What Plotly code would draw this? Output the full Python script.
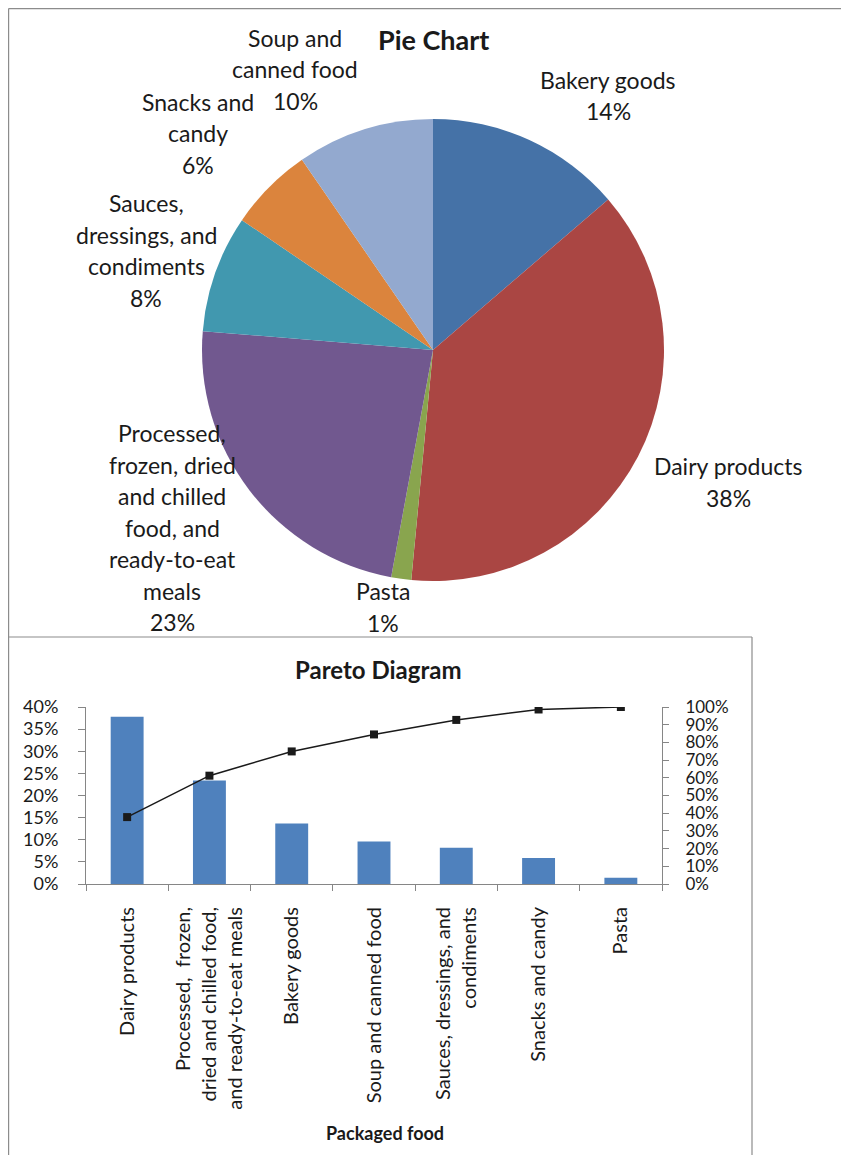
import plotly.graph_objects as go

# The page body adds an 8px margin, so the figure is drawn 16px smaller than
# the 849x1163 window and all positions are given in window pixels.
W, H = 833, 1147
OFF = 8
FONT = "Lato"
TXT = "#1a1a1a"
AX = "#868686"

# ---------------- data ----------------
pie_categories = [
    "Bakery goods",
    "Dairy products",
    "Pasta",
    "Processed, frozen, dried and chilled food, and ready-to-eat meals",
    "Sauces, dressings, and condiments",
    "Snacks and candy",
    "Soup and canned food",
]
pie_values = [13.7, 37.8, 1.4, 23.4, 8.2, 5.9, 9.6]
pie_colors = ["#4572A7", "#AA4643", "#89A54E", "#71588F", "#4198AF", "#DB843D", "#93A9CF"]
pie_label_lines = [
    ["Bakery goods"],
    ["Dairy products"],
    ["Pasta"],
    ["Processed,", "frozen, dried", "and chilled", "food, and", "ready-to-eat", "meals"],
    ["Sauces,", "dressings, and", "condiments"],
    ["Snacks and", "candy"],
    ["Soup and", "canned food"],
]

pareto_categories = [
    "Dairy products",
    "Processed, frozen, dried and chilled food, and ready-to-eat meals",
    "Bakery goods",
    "Soup and canned food",
    "Sauces, dressings, and condiments",
    "Snacks and candy",
    "Pasta",
]
pareto_tick_labels = [
    "Dairy products",
    "Processed,  frozen,<br>dried and chilled food,<br>and ready-to-eat meals",
    "Bakery goods",
    "Soup and canned food",
    "Sauces, dressings, and<br>condiments",
    "Snacks and candy",
    "Pasta",
]
pareto_values = [0.378, 0.234, 0.137, 0.096, 0.082, 0.059, 0.014]
pareto_cumulative = [0.378, 0.612, 0.749, 0.845, 0.927, 0.986, 1.0]

# ---------------- layout helpers (window pixel -> paper) ----------------
def px(x):
    return (x - OFF) / W

def py(y):
    return 1 - (y - OFF) / H

# center of first line of each pie label, in window pixels
pie_label_pos = [(608, 80), (728, 466), (383, 591), (172, 433), (146, 203), (198, 102), (295, 38)]
LINE_H = 31.5

fig = go.Figure()

fig.add_trace(go.Pie(
    labels=pie_categories,
    values=pie_values,
    marker=dict(colors=pie_colors, line=dict(width=0)),
    sort=False,
    direction="clockwise",
    rotation=0,
    textinfo="none",
    hoverinfo="label+percent",
    showlegend=False,
    domain=dict(x=[px(202), px(664)], y=[py(582), py(118)]),
))

fig.add_trace(go.Bar(
    x=pareto_categories,
    y=pareto_values,
    marker=dict(color="#4F81BD", line=dict(width=0)),
    width=0.4,
    showlegend=False,
    xaxis="x", yaxis="y",
))

fig.add_trace(go.Scatter(
    x=pareto_categories,
    y=pareto_cumulative,
    mode="lines+markers",
    line=dict(color="#1a1a1a", width=1.5),
    marker=dict(symbol="square", size=8, color="#1a1a1a"),
    showlegend=False,
    xaxis="x", yaxis="y2",
))

annotations = []
for lines, val, (cx, cy) in zip(pie_label_lines, pie_values, pie_label_pos):
    all_lines = lines + [f"{round(val)}%"]
    for i, t in enumerate(all_lines):
        annotations.append(dict(
            text=t, x=px(cx), y=py(cy + i * LINE_H), xref="paper", yref="paper",
            xanchor="center", yanchor="middle", showarrow=False,
            font=dict(family=FONT, size=23, color=TXT),
        ))

annotations.append(dict(
    text="<b>Pie Chart</b>", x=px(433), y=py(40), xref="paper", yref="paper",
    xanchor="center", yanchor="middle", showarrow=False,
    font=dict(family=FONT, size=27, color=TXT),
))
annotations.append(dict(
    text="<b>Pareto Diagram</b>", x=px(378), y=py(669), xref="paper", yref="paper",
    xanchor="center", yanchor="middle", showarrow=False,
    font=dict(family=FONT, size=24, color=TXT),
))
annotations.append(dict(
    text="<b>Packaged food</b>", x=px(385), y=py(1133), xref="paper", yref="paper",
    xanchor="center", yanchor="middle", showarrow=False,
    font=dict(family=FONT, size=18, color=TXT),
))

border = dict(color="#8c8c8c", width=1.2)
shapes = [
    dict(type="line", xref="paper", yref="paper", x0=px(8.6), x1=1, y0=py(8.6), y1=py(8.6), line=border),
    dict(type="line", xref="paper", yref="paper", x0=px(8.6), x1=px(8.6), y0=py(8.6), y1=0, line=border),
    dict(type="line", xref="paper", yref="paper", x0=px(8.6), x1=px(752), y0=py(637), y1=py(637), line=border),
    dict(type="line", xref="paper", yref="paper", x0=px(752), x1=px(752), y0=py(637), y1=0, line=border),
]

fig.update_layout(
    width=W, height=H, autosize=False,
    margin=dict(l=0, r=0, t=0, b=0, pad=0),
    paper_bgcolor="white", plot_bgcolor="white",
    font=dict(family=FONT, color=TXT),
    annotations=annotations,
    shapes=shapes,
    xaxis=dict(
        domain=[px(86), px(662)],
        anchor="y",
        type="category",
        range=[-0.5, 6.5],
        tickmode="array",
        tickvals=pareto_categories,
        ticktext=pareto_tick_labels,
        tickangle=-90,
        tickfont=dict(family=FONT, size=20, color=TXT),
        showline=True, linecolor=AX, linewidth=1,
        ticks="outside", tickson="boundaries", ticklen=6, tickcolor=AX,
        showgrid=False, zeroline=False,
        ticklabelstandoff=14,
        automargin=False,
    ),
    yaxis=dict(
        domain=[py(884), py(707)],
        anchor="x",
        range=[0, 0.4],
        dtick=0.05,
        tickformat=".0%",
        tickfont=dict(family=FONT, size=18, color=TXT),
        showline=True, linecolor=AX, linewidth=1,
        ticks="outside", ticklen=7, tickcolor=AX,
        ticklabelstandoff=16,
        showgrid=False, zeroline=False,
        automargin=False,
    ),
    yaxis2=dict(
        overlaying="y",
        anchor="x",
        side="right",
        range=[0, 1],
        dtick=0.1,
        tickformat=".0%",
        tickfont=dict(family=FONT, size=17, color=TXT),
        showline=True, linecolor=AX, linewidth=1,
        ticks="outside", ticklen=6, tickcolor=AX,
        ticklabelstandoff=13,
        showgrid=False, zeroline=False,
        automargin=False,
    ),
)

fig.write_html("out.html")
